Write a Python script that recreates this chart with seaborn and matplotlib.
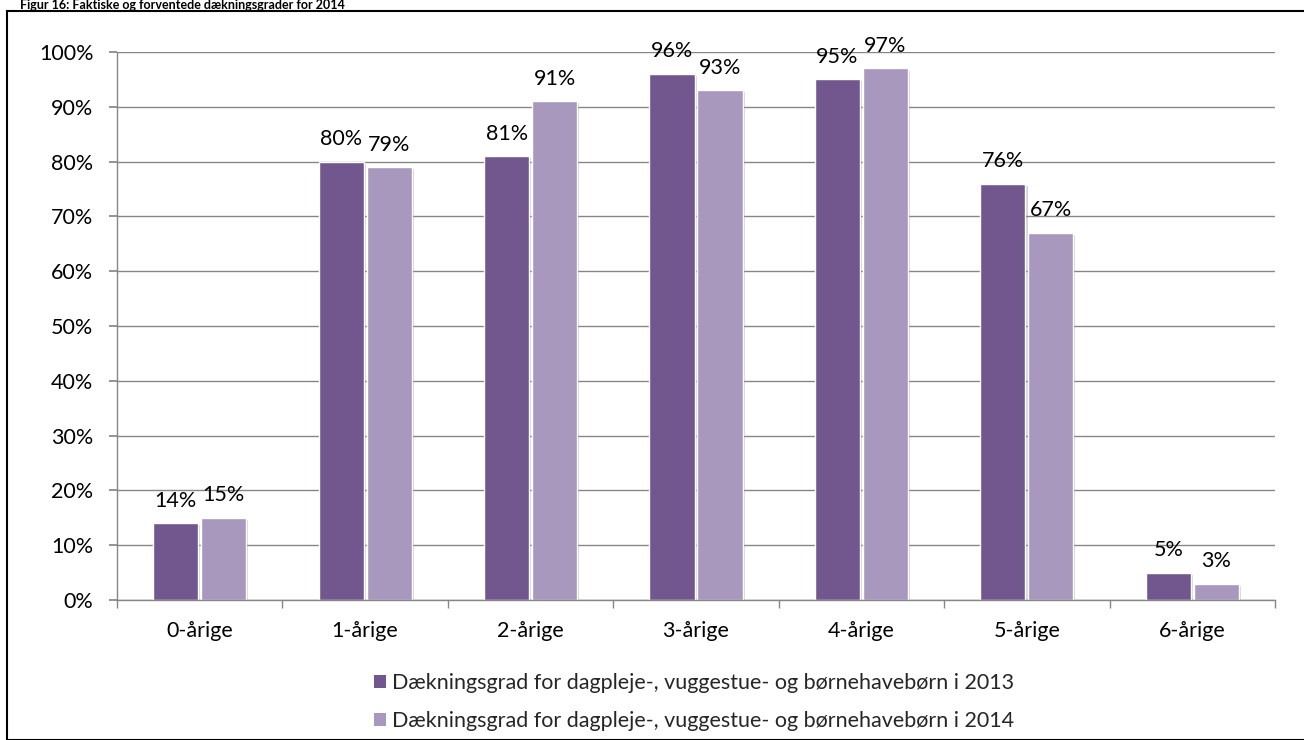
import matplotlib
matplotlib.use("Agg")
import matplotlib.pyplot as plt
import matplotlib.patheffects as pe
from matplotlib.patches import Rectangle, Patch
from matplotlib.ticker import PercentFormatter, FixedLocator
import seaborn as sns
import pandas as pd

categories = ["0-årige", "1-årige", "2-årige", "3-årige", "4-årige", "5-årige", "6-årige"]
values_2013 = [14, 80, 81, 96, 95, 76, 5]
values_2014 = [15, 79, 91, 93, 97, 67, 3]
series_names = [
    "Dækningsgrad for dagpleje-, vuggestue- og børnehavebørn i 2013",
    "Dækningsgrad for dagpleje-, vuggestue- og børnehavebørn i 2014",
]
title = "Figur 16: Faktiske og forventede dækningsgrader for 2014"
colors = ["#72578E", "#A898BE"]

df = pd.DataFrame({
    "cat": categories * 2,
    "val": values_2013 + values_2014,
    "series": [series_names[0]] * len(categories) + [series_names[1]] * len(categories),
})

sns.set_theme(style="white")
plt.rcParams["font.family"] = ["Lato", "DejaVu Sans"]
FS = 15.5

fig = plt.figure(figsize=(13.04, 7.40), dpi=100)
ax = fig.add_axes([117/1304, 1-600/740, (1275-117)/1304, (600-52)/740])

sns.barplot(data=df, x="cat", y="val", hue="series", palette=colors,
            width=0.58, gap=0.06, ax=ax, legend=False, saturation=1,
            edgecolor="white", linewidth=1)

for p in ax.patches:
    p.set_path_effects([pe.SimplePatchShadow(offset=(1.5, -1.5), alpha=0.25, shadow_rgbFace="#555555"), pe.Normal()])

for cont in ax.containers:
    ax.bar_label(cont, labels=[f"{v:.0f}%" for v in cont.datavalues], padding=9,
                 fontsize=FS, color="#000000")

ax.set_ylim(0, 100)
ax.set_xlim(-0.5, len(categories) - 0.5)
ax.yaxis.set_major_locator(FixedLocator(range(0, 101, 10)))
ax.yaxis.set_major_formatter(PercentFormatter(decimals=0))
ax.grid(axis="y", color="#868686", linewidth=1)
ax.set_axisbelow(True)
ax.set_xlabel("")
ax.set_ylabel("")
for s in ["top", "right"]:
    ax.spines[s].set_visible(False)
for s in ["left", "bottom"]:
    ax.spines[s].set_color("#868686")
    ax.spines[s].set_linewidth(1)
ax.tick_params(axis="y", which="major", left=True, length=6, color="#868686", labelsize=FS, pad=11, labelcolor="black")
ax.tick_params(axis="x", which="major", bottom=False, labelsize=FS, pad=9, labelcolor="black")
ax.set_xticks([i - 0.5 for i in range(len(categories) + 1)], minor=True)
ax.tick_params(axis="x", which="minor", bottom=True, length=6, color="#868686")

handles = [Patch(facecolor=c, edgecolor="none") for c in colors]
fig.legend(handles, series_names, loc="center", bbox_to_anchor=(694/1304, 1-702/740),
           frameon=False, fontsize=FS, handlelength=0.55, handleheight=0.55,
           handletextpad=0.3, labelspacing=0.85, borderpad=0)

fig.patches.append(Rectangle((7/1304, 0), 2, 1-11/740, transform=fig.transFigure,
                             fill=False, edgecolor="black", linewidth=1.5))
fig.text(20/1304, 1 - 9/740, title, fontsize=9, fontweight="bold", va="baseline", ha="left", color="black")

fig.savefig("out.png", dpi=100)
